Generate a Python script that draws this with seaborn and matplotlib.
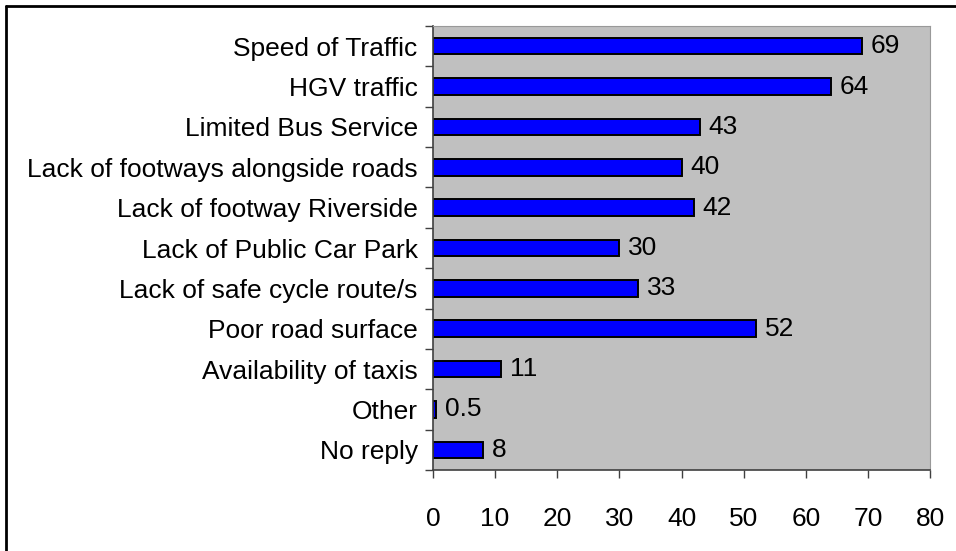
import pandas as pd
import numpy as np
import seaborn as sns
import matplotlib.pyplot as plt
from matplotlib.lines import Line2D

categories = ['Speed of Traffic', 'HGV traffic', 'Limited Bus Service',
              'Lack of footways alongside roads', 'Lack of footway Riverside',
              'Lack of Public Car Park', 'Lack of safe cycle route/s',
              'Poor road surface', 'Availability of taxis', 'Other', 'No reply']
values = [69, 64, 43, 40, 42, 30, 33, 52, 11, 0.5, 8]
value_labels = ['69', '64', '43', '40', '42', '30', '33', '52', '11', '0.5', '8']
x_ticks = [0, 10, 20, 30, 40, 50, 60, 70, 80]

df = pd.DataFrame({'category': categories, 'value': values})

sns.set_style('white')
plt.rcParams['font.family'] = ['Liberation Sans', 'DejaVu Sans']
plt.rcParams['text.color'] = 'black'
plt.rcParams['xtick.color'] = 'black'
plt.rcParams['ytick.color'] = 'black'

fs = 19

fig = plt.figure(figsize=(9.56, 5.51), dpi=100)
ax = fig.add_axes([433 / 956, 1 - 470 / 551, (930 - 433) / 956, (470 - 26) / 551])

sns.barplot(data=df, x='value', y='category', color='#0000FF', saturation=1,
            width=0.41, edgecolor='black', linewidth=1.4, ax=ax)

ax.set_facecolor('#C0C0C0')
ax.set_xlim(0, 80)
ax.set_ylim(len(categories) - 0.5, -0.5)
ax.set_xticks(x_ticks)
ax.set_xticklabels([str(t) for t in x_ticks], fontsize=fs)
ax.set_xlabel('')
ax.set_ylabel('')

# category labels as minor ticks, tick marks at boundaries
ax.set_yticks(np.arange(-0.5, len(categories), 1))
ax.set_yticklabels([])
ax.set_yticks(np.arange(len(categories)), minor=True)
ax.set_yticklabels(categories, minor=True, fontsize=fs)
ax.tick_params(axis='y', which='minor', length=0, pad=11)
ax.tick_params(axis='y', which='major', length=5.5, width=1, color='#404040', direction='out', left=True)
ax.tick_params(axis='x', which='major', length=5.5, width=1, color='#404040', direction='out', bottom=True, pad=21)

for s in ['left', 'bottom']:
    ax.spines[s].set_color('#404040')
    ax.spines[s].set_linewidth(1.2)
for s in ['top', 'right']:
    ax.spines[s].set_color('#999999')
    ax.spines[s].set_linewidth(0.8)

for i, (v, lab) in enumerate(zip(values, value_labels)):
    ax.text(v + 1.4, i, lab, va='center', ha='left', fontsize=fs)

# outer frame of the chart (top and left visible)
fig.add_artist(Line2D([6 / 956, 6 / 956], [0, 1 - 6 / 551], transform=fig.transFigure, color='black', lw=2))
fig.add_artist(Line2D([6 / 956, 1], [1 - 6 / 551, 1 - 6 / 551], transform=fig.transFigure, color='black', lw=2))

fig.savefig('out.png', dpi=100)
